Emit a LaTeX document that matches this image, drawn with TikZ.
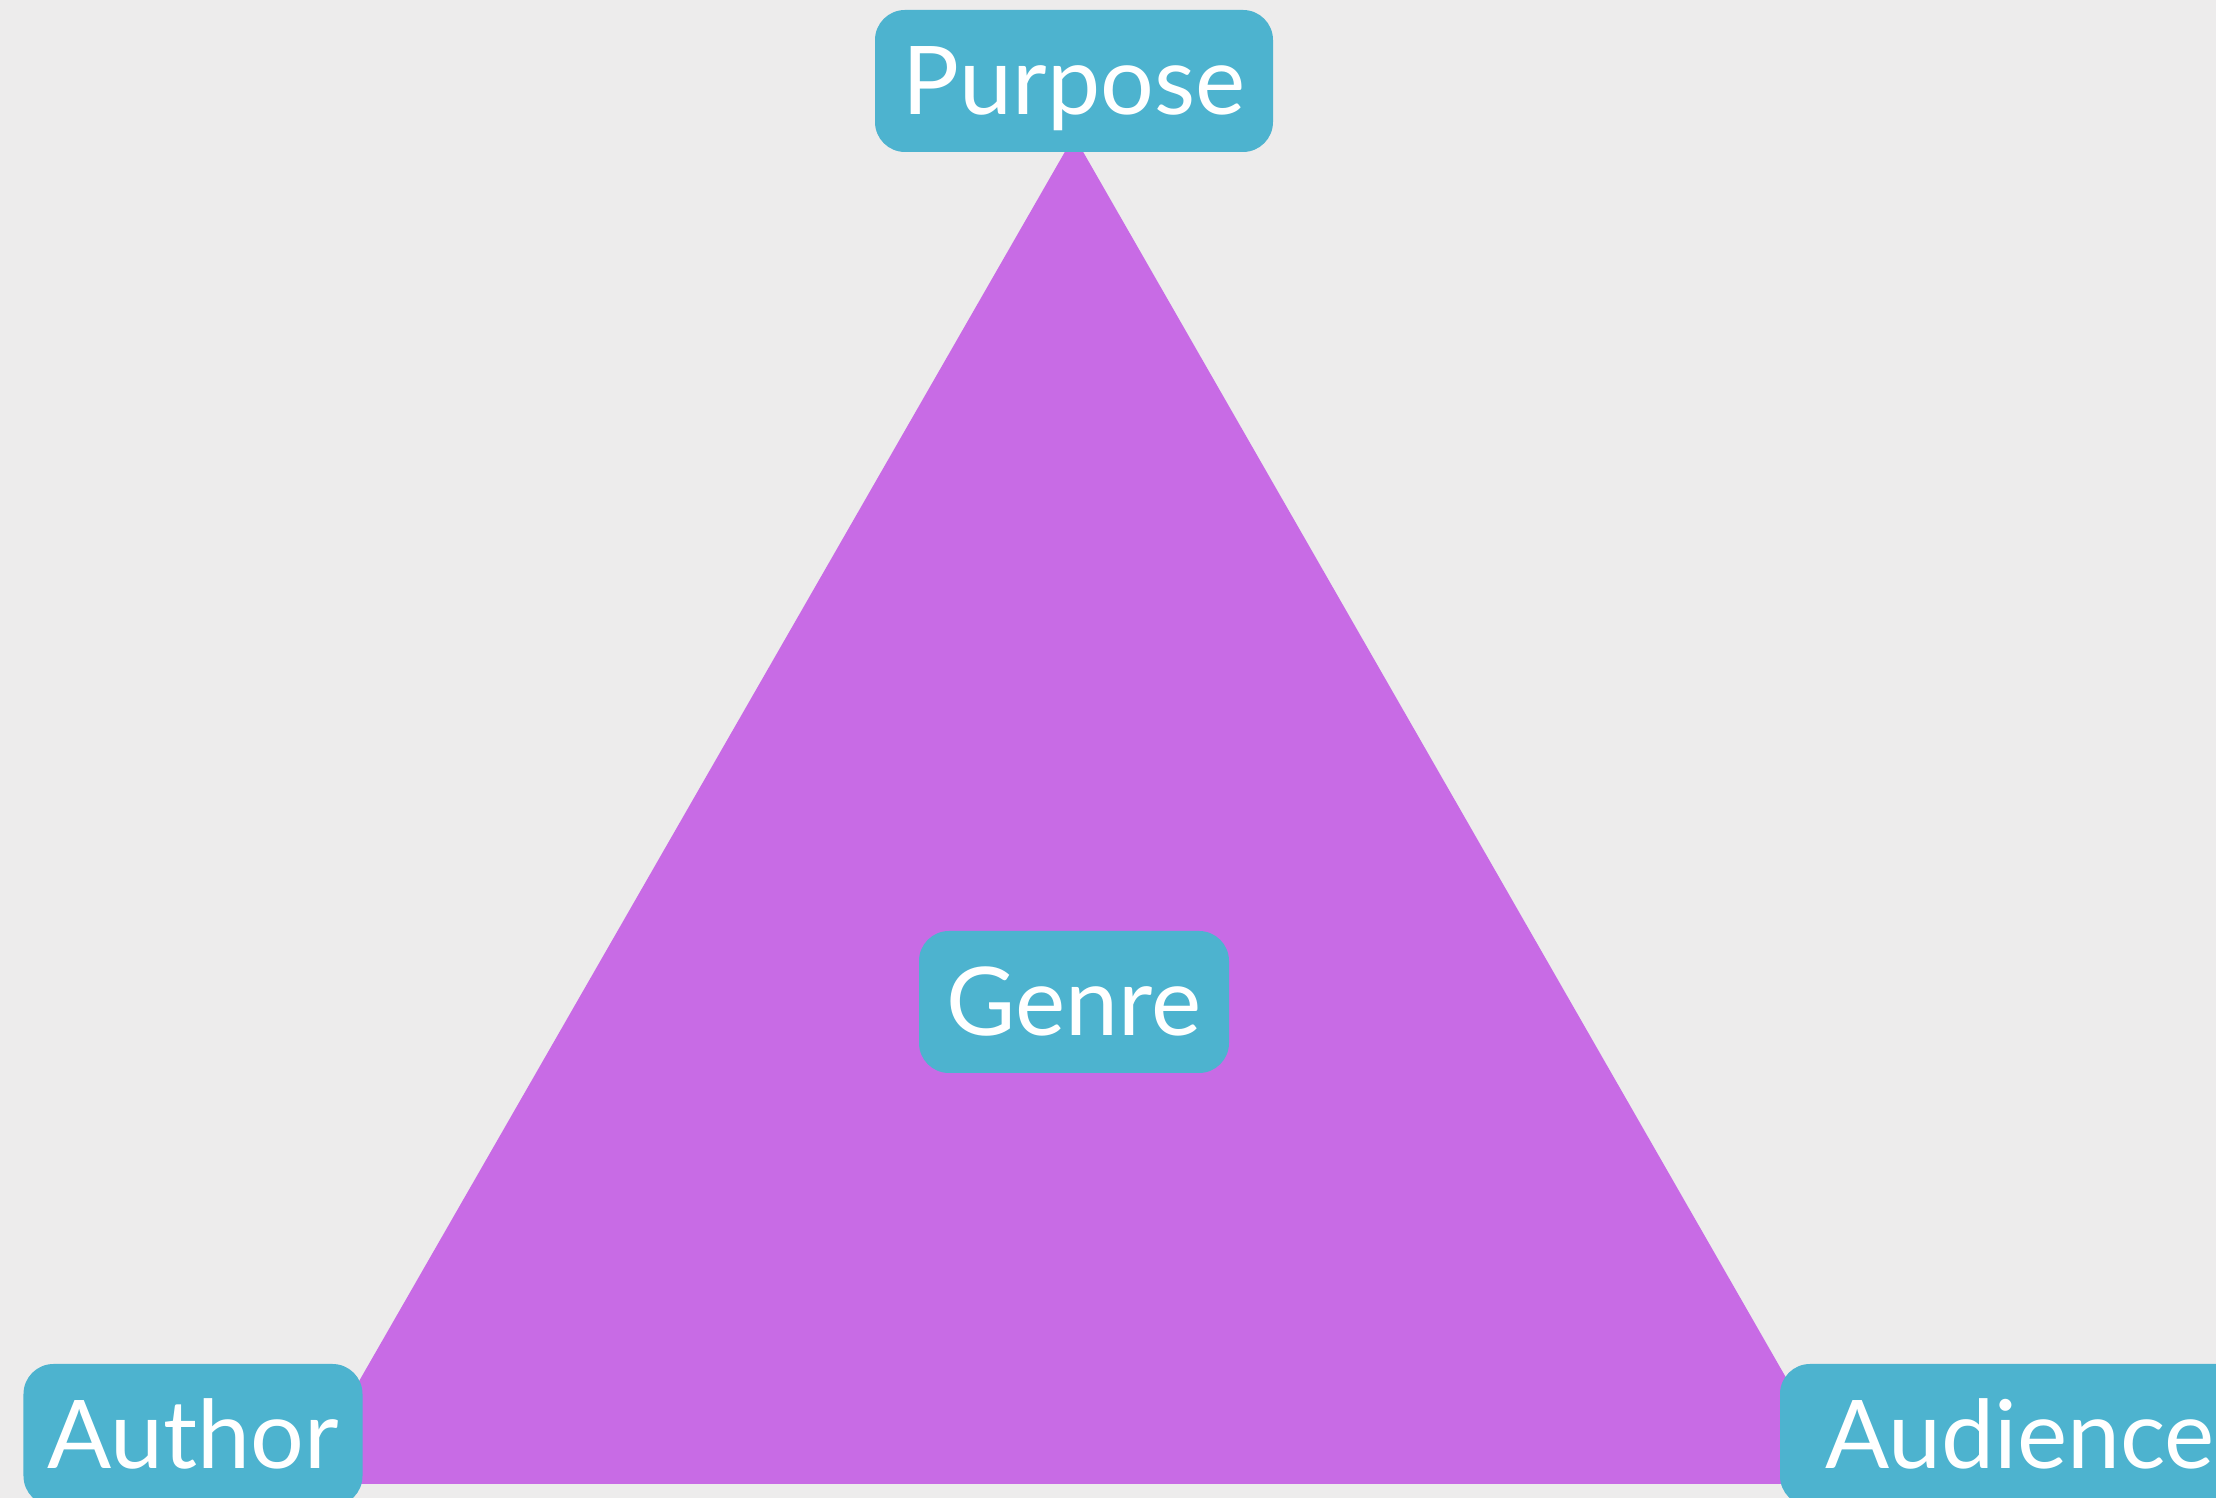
\documentclass[tikz,border=0pt]{standalone}
\usepackage{fontspec}
\setmainfont{Lato}
\definecolor{paper}{HTML}{EDECEC}
\definecolor{tagblue}{HTML}{4DB3CF}
\definecolor{lilac}{HTML}{C86BE5}
\newcommand\tagfont{\fontsize{27pt}{32pt}\selectfont}

\begin{document}
\begin{tikzpicture}[
  tag/.style={fill=tagblue,text=white,rounded corners=.3cm,minimum height=1.42cm,
    inner sep=0pt,text height=.68cm,text depth=0pt,font=\tagfont},
  wedge/.style={fill=lilac}]
  \clip (0,0) rectangle (22.16,14.98);
  \fill[paper] (0,0) rectangle (22.16,14.98);
  \coordinate (apex) at (10.74,13.62);
  \coordinate (lcorner) at (3.00,.14);
  \coordinate (rcorner) at (18.47,.14);
  \fill[wedge] (apex) -- (lcorner) -- (rcorner) -- cycle;
  \node[tag,minimum width=3.98cm] (purpose) at (10.74,14.17) {Purpose};
  \node[tag,minimum width=3.10cm] (genre) at (10.74,4.96) {Genre};
  \node[tag,minimum width=3.39cm] (author) at (1.93,.63) {Author};
  \node[tag,minimum width=4.80cm] (audience) at (20.20,.63) {Audience};
\end{tikzpicture}
\end{document}
